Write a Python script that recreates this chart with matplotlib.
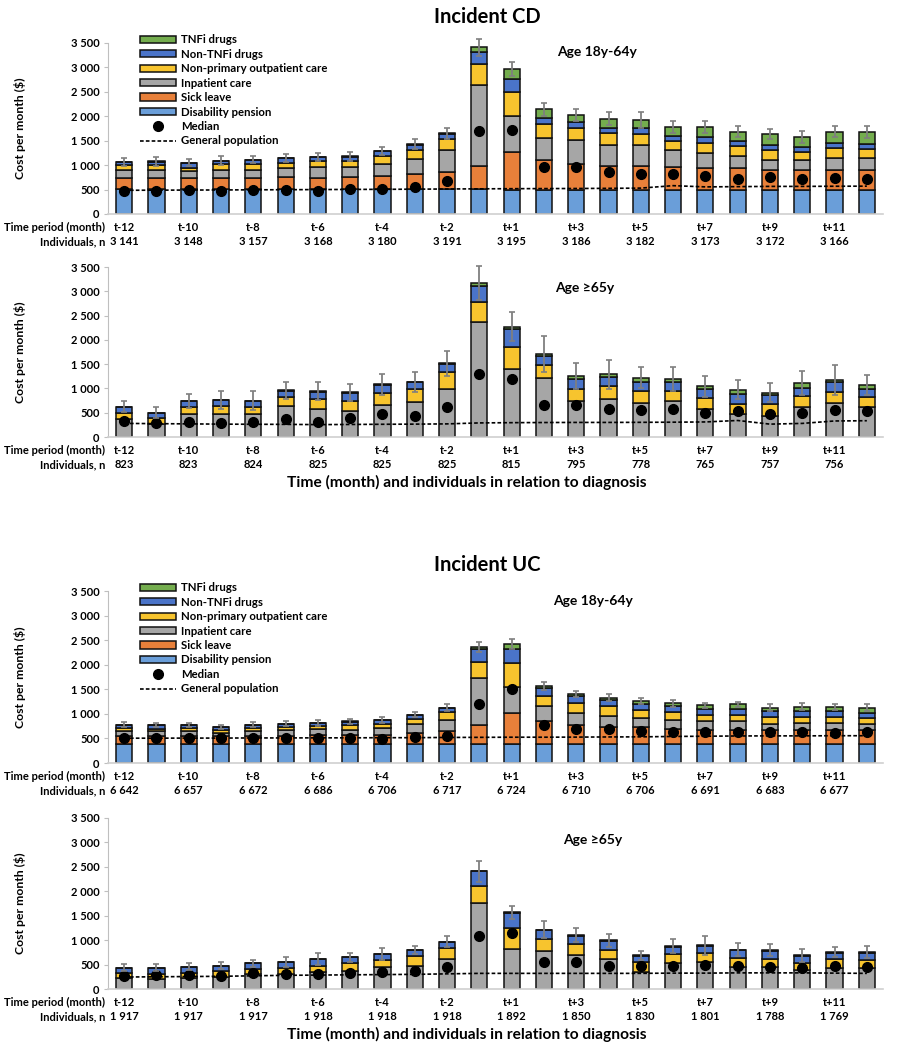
import matplotlib
matplotlib.use("Agg")
import matplotlib.pyplot as plt
import numpy as np
from matplotlib.patches import Patch
from matplotlib.lines import Line2D
from matplotlib.ticker import FuncFormatter, MultipleLocator

plt.rcParams['font.family'] = ['Lato', 'DejaVu Sans']
plt.rcParams['font.weight'] = 'bold'

periods = [f"t-{i}" for i in range(12, 0, -1)] + [f"t+{i}" for i in range(1, 13)]

# ---------------- Incident CD, age 18-64 ----------------
cd_y_dp = [515, 515, 515, 515, 515, 515, 508, 508, 508, 508, 508, 508,
           494, 494, 494, 494, 494, 494, 494, 494, 494, 494, 494, 494]
cd_y_sl = [219, 219, 219, 219, 219, 233, 233, 247, 260, 301, 350, 473,
           775, 617, 535, 487, 487, 466, 453, 453, 412, 412, 412, 412]
cd_y_ip = [158, 158, 144, 171, 171, 185, 213, 205, 261, 323, 445, 1653,
           741, 453, 494, 439, 439, 343, 302, 247, 205, 205, 240, 246]
cd_y_op = [103, 103, 69, 110, 110, 110, 130, 117, 151, 185, 241, 432,
           480, 274, 247, 240, 220, 192, 212, 192, 206, 158, 212, 172]
cd_y_nt = [70, 77, 98, 71, 91, 98, 77, 98, 102, 100, 94, 241,
           268, 124, 117, 110, 123, 97, 117, 103, 103, 103, 103, 110]
cd_y_tn = [5, 5, 5, 5, 5, 5, 5, 5, 8, 10, 15, 102,
           212, 178, 144, 178, 158, 192, 206, 199, 213, 206, 227, 247]
cd_y_err = [82, 89, 68, 89, 76, 89, 89, 89, 89, 103, 110, 165,
            144, 131, 123, 131, 158, 123, 123, 116, 103, 123, 116, 116]
cd_y_med = [480, 466, 494, 480, 494, 494, 480, 514, 514, 549, 672, 1701,
            1715, 954, 954, 858, 823, 809, 782, 720, 755, 707, 741, 707]
cd_y_gen = [485, 488, 490, 492, 495, 497, 500, 503, 505, 508, 512, 515,
            518, 520, 522, 525, 530, 580, 555, 560, 565, 565, 568, 570]
cd_y_n = ["3 141", "3 148", "3 157", "3 168", "3 180", "3 191",
          "3 195", "3 186", "3 182", "3 173", "3 172", "3 166"]

# ---------------- Incident CD, age >=65 ----------------
cd_o_ip = [367, 263, 471, 471, 471, 644, 568, 541, 658, 728, 991, 2377,
           1400, 1220, 742, 776, 693, 742, 568, 471, 437, 610, 707, 610]
cd_o_op = [118, 118, 139, 173, 139, 174, 208, 207, 243, 256, 340, 409,
           450, 263, 249, 264, 249, 200, 243, 201, 235, 242, 229, 215]
cd_o_nt = [139, 118, 132, 118, 138, 138, 160, 167, 173, 146, 180, 333,
           368, 194, 201, 194, 195, 195, 173, 208, 194, 167, 194, 173]
cd_o_tn = [3, 3, 3, 3, 3, 3, 3, 3, 8, 5, 10, 48,
           48, 28, 69, 55, 83, 55, 56, 90, 49, 90, 48, 76]
cd_o_err = [120, 111, 145, 180, 188, 181, 187, 180, 208, 201, 256, 353,
            298, 374, 264, 305, 221, 249, 207, 194, 201, 242, 312, 208]
cd_o_med = [326, 298, 319, 291, 312, 367, 305, 381, 471, 423, 617, 1289,
            1192, 651, 658, 582, 561, 582, 485, 534, 471, 485, 547, 541]
cd_o_gen = [280, 275, 270, 265, 262, 260, 255, 258, 262, 265, 270, 290,
            295, 298, 300, 300, 302, 305, 310, 340, 265, 280, 330, 335]
cd_o_n = ["823", "823", "824", "825", "825", "825",
          "815", "795", "778", "765", "757", "756"]

# ---------------- Incident UC, age 18-64 ----------------
uc_y_dp = [392, 392, 392, 385, 385, 385, 385, 385, 385, 385, 385, 385,
           385, 385, 385, 385, 385, 385, 385, 385, 385, 392, 392, 392]
uc_y_sl = [162, 162, 162, 156, 169, 169, 176, 176, 189, 223, 257, 379,
           642, 473, 392, 345, 338, 304, 291, 291, 291, 284, 284, 284]
uc_y_ip = [101, 94, 101, 67, 95, 108, 128, 115, 135, 189, 236, 973,
           527, 311, 250, 236, 189, 189, 169, 169, 121, 148, 135, 121]
uc_y_op = [55, 54, 55, 54, 60, 68, 68, 101, 88, 95, 156, 324,
           473, 203, 189, 196, 169, 156, 135, 135, 149, 122, 135, 115]
uc_y_nt = [62, 62, 62, 63, 63, 62, 56, 63, 75, 80, 84, 250,
           291, 148, 156, 122, 122, 128, 121, 128, 108, 115, 115, 115]
uc_y_tn = [5, 5, 5, 5, 5, 5, 5, 5, 6, 8, 10, 40,
           101, 48, 33, 47, 54, 54, 75, 88, 74, 88, 81, 101]
uc_y_err = [54, 42, 47, 47, 54, 54, 60, 47, 54, 54, 68, 102,
            95, 74, 68, 68, 61, 68, 54, 47, 68, 67, 67, 75]
uc_y_med = [507, 514, 514, 507, 507, 500, 514, 500, 493, 527, 554, 1203,
            1507, 777, 696, 689, 642, 635, 622, 635, 622, 622, 608, 622]
uc_y_gen = [505, 505, 507, 507, 510, 510, 512, 512, 515, 515, 520, 522,
            525, 525, 527, 530, 532, 540, 545, 550, 552, 552, 555, 555]
uc_y_n = ["6 642", "6 657", "6 672", "6 686", "6 706", "6 717",
          "6 724", "6 710", "6 706", "6 691", "6 683", "6 677"]

# ---------------- Incident UC, age >=65 ----------------
uc_o_ip = [219, 198, 219, 253, 308, 308, 355, 376, 444, 472, 608, 1757,
           813, 779, 697, 608, 355, 526, 547, 458, 444, 390, 437, 424]
uc_o_op = [102, 110, 116, 116, 102, 116, 124, 150, 151, 205, 240, 342,
           431, 246, 226, 192, 192, 192, 184, 171, 171, 150, 171, 171]
uc_o_nt = [116, 129, 123, 110, 116, 130, 129, 123, 123, 123, 123, 307,
           318, 180, 164, 185, 130, 151, 151, 164, 165, 137, 138, 151]
uc_o_tn = [0, 0, 0, 0, 0, 0, 0, 0, 0, 0, 0, 0,
           5, 10, 10, 10, 10, 10, 10, 10, 10, 10, 10, 10]
uc_o_err = [76, 69, 68, 75, 69, 95, 123, 96, 116, 89, 116, 219,
            137, 177, 144, 137, 89, 136, 192, 137, 123, 130, 102, 123]
uc_o_med = [267, 287, 287, 273, 321, 308, 301, 321, 355, 376, 458, 1094,
            1155, 547, 547, 479, 479, 479, 492, 479, 458, 424, 479, 444]
uc_o_gen = [245, 250, 255, 260, 270, 280, 285, 290, 295, 300, 310, 320,
            320, 320, 320, 320, 320, 325, 325, 330, 330, 330, 325, 320]
uc_o_n = ["1 917", "1 917", "1 917", "1 918", "1 918", "1 918",
          "1 892", "1 850", "1 830", "1 801", "1 788", "1 769"]

zeros = [0] * 24

comp_names = ["Disability pension", "Sick leave", "Inpatient care",
              "Non-primary outpatient care", "Non-TNFi drugs", "TNFi drugs"]
comp_colors = ["#6A9ED9", "#E8803A", "#A6A6A6", "#F7C42E", "#4A74C9", "#74AD4E"]

W, H = 902, 1050
fig = plt.figure(figsize=(W / 100, H / 100), dpi=100)

left = 108 / W
width = 775 / W
# (zero pixel, top pixel) for each panel
panel_px = [(214, 43), (437, 267), (763, 591), (989, 818)]

panels = [
    dict(comps=[cd_y_dp, cd_y_sl, cd_y_ip, cd_y_op, cd_y_nt, cd_y_tn], err=cd_y_err,
         med=cd_y_med, gen=cd_y_gen, n=cd_y_n, legend=True, age="Age 18y-64y",
         age_xy=(557, 52), xlabel=False),
    dict(comps=[zeros, zeros, cd_o_ip, cd_o_op, cd_o_nt, cd_o_tn], err=cd_o_err,
         med=cd_o_med, gen=cd_o_gen, n=cd_o_n, legend=False, age="Age \u226565y",
         age_xy=(555, 288), xlabel=True),
    dict(comps=[uc_y_dp, uc_y_sl, uc_y_ip, uc_y_op, uc_y_nt, uc_y_tn], err=uc_y_err,
         med=uc_y_med, gen=uc_y_gen, n=uc_y_n, legend=True, age="Age 18y-64y",
         age_xy=(553, 601), xlabel=False),
    dict(comps=[zeros, zeros, uc_o_ip, uc_o_op, uc_o_nt, uc_o_tn], err=uc_o_err,
         med=uc_o_med, gen=uc_o_gen, n=uc_o_n, legend=False, age="Age \u226565y",
         age_xy=(563, 840), xlabel=True),
]

x = np.arange(len(periods))
fmt = FuncFormatter(lambda v, p: f"{v:,.0f}".replace(",", " "))
FS = 8.0

for (zero_px, top_px), pd_ in zip(panel_px, panels):
    ax = fig.add_axes([left, 1 - zero_px / H, width, (zero_px - top_px) / H])
    bottom = np.zeros(len(x))
    for vals, col in zip(pd_["comps"], comp_colors):
        v = np.array(vals, dtype=float)
        ax.bar(x, v, 0.5, bottom=bottom, color=col, edgecolor="#111111",
               linewidth=1.1, zorder=2)
        bottom = bottom + v
    ax.plot(x, pd_["gen"], color="black", lw=1.2, dashes=(2.2, 1.3), zorder=3)
    ax.plot(x, pd_["med"], "o", color="black", ms=7, zorder=4)
    ax.errorbar(x, bottom, yerr=pd_["err"], fmt="none", ecolor="#7F7F7F",
                elinewidth=1.3, capsize=2.5, capthick=1.2, zorder=5, clip_on=False)
    ax.set_xlim(-0.5, len(x) - 0.5)
    ax.set_ylim(0, 3500)
    ax.yaxis.set_major_locator(MultipleLocator(500))
    ax.yaxis.set_major_formatter(fmt)
    for s in ["top", "right"]:
        ax.spines[s].set_visible(False)
    ax.spines["left"].set_color("#BFBFBF")
    ax.spines["bottom"].set_color("#D0D0D0")
    ax.spines["bottom"].set_linewidth(1.2)
    ax.tick_params(axis="y", length=3, color="#BFBFBF", labelsize=FS, pad=3)
    ax.tick_params(axis="x", length=0, labelbottom=False)
    for lab in ax.get_yticklabels():
        lab.set_fontweight("bold")

    # category labels (every other period) and n
    for i in range(0, len(x), 2):
        ax.annotate(periods[i], xy=(i, 0), xycoords=("data", "axes fraction"),
                    xytext=(0, -10), textcoords="offset points", ha="center",
                    va="center", fontsize=FS, fontweight="bold")
        ax.annotate(pd_["n"][i // 2], xy=(i, 0), xycoords=("data", "axes fraction"),
                    xytext=(0, -20), textcoords="offset points", ha="center",
                    va="center", fontsize=FS, fontweight="bold")
    ax.annotate("Time period (month)", xy=(0, 0), xycoords="axes fraction",
                xytext=(-2, -10), textcoords="offset points", ha="right",
                va="center", fontsize=FS, fontweight="bold")
    ax.annotate("Individuals, n", xy=(0, 0), xycoords="axes fraction",
                xytext=(-2, -20), textcoords="offset points", ha="right",
                va="center", fontsize=FS, fontweight="bold")

    fig.text(20 / W, 1 - (zero_px + top_px) / 2 / H, "Cost per month ($)",
             rotation=90, ha="center", va="center", fontsize=8.8, fontweight="bold")
    fig.text(pd_["age_xy"][0] / W, 1 - pd_["age_xy"][1] / H, pd_["age"],
             ha="left", va="center", fontsize=10, fontweight="bold")
    if pd_["xlabel"]:
        fig.text(467 / W, 1 - (zero_px + 45) / H,
                 "Time (month) and individuals in relation to diagnosis",
                 ha="center", va="center", fontsize=11.2, fontweight="bold")

    if pd_["legend"]:
        handles = [Patch(facecolor=c, edgecolor="#111111", linewidth=1.1, label=nm)
                   for nm, c in zip(comp_names, comp_colors)][::-1]
        handles.append(Line2D([], [], marker="o", color="black", ls="none", ms=7,
                              label="Median"))
        handles.append(Line2D([], [], color="black", lw=1.2, dashes=(2.2, 1.3),
                              label="General population"))
        ax.legend(handles=handles, loc="upper left",
                  bbox_to_anchor=(0.041, 1.05), frameon=False,
                  prop=dict(size=8.2, weight="bold"), handlelength=3.2,
                  handleheight=0.6, labelspacing=0.3, handletextpad=0.4,
                  borderpad=0, borderaxespad=0)

fig.text(487 / W, 1 - 17 / H, "Incident CD", ha="center", va="center",
         fontsize=14.5, fontweight="bold")
fig.text(487 / W, 1 - 565 / H, "Incident UC", ha="center", va="center",
         fontsize=14.5, fontweight="bold")

fig.savefig("out.png", dpi=100)
